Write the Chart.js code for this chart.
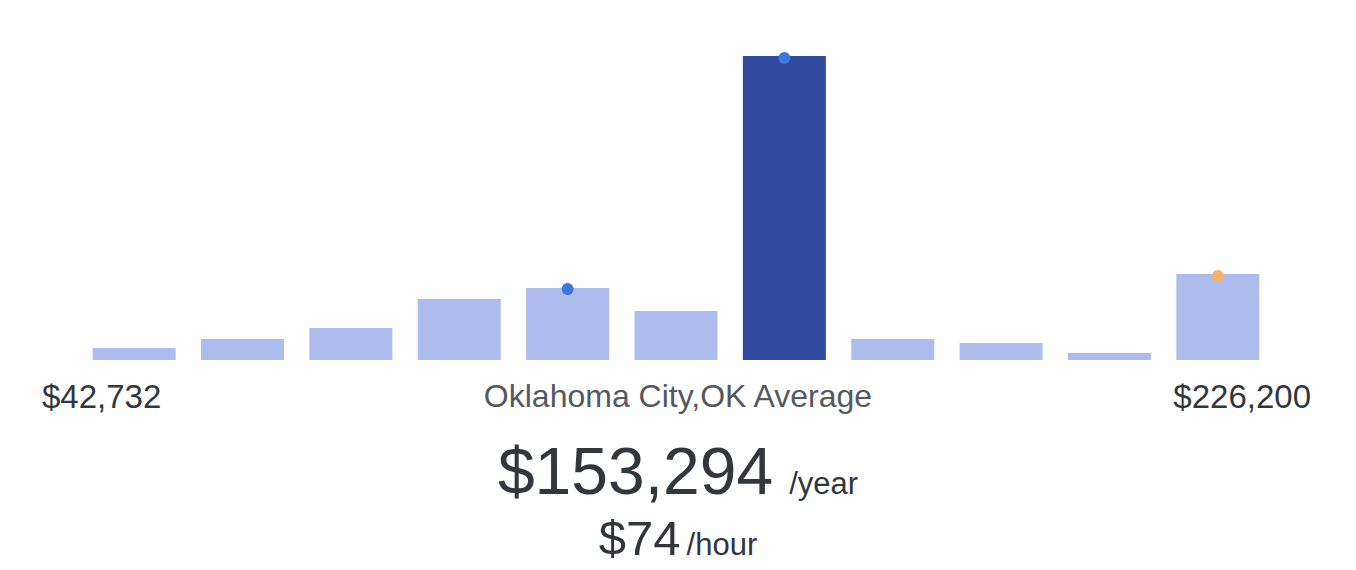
<!DOCTYPE html>
<html>
<head>
<meta charset="utf-8">
<script src="https://cdn.jsdelivr.net/npm/chart.js@4/dist/chart.umd.min.js"></script>
<style>
	html, body { margin: 0; padding: 0; background: #fff; }
	body { width: 1356px; height: 570px; position: relative; overflow: hidden;
		font-family: "Liberation Sans", Arial, Helvetica, sans-serif; color: #31373d; }
	#wrap { position: absolute; left: 0; top: 0; width: 1356px; height: 360px; }
	.lbl { position: absolute; font-size: 33px; line-height: 1; white-space: nowrap; }
	#minLbl { left: 42px; top: 380px; }
	#maxLbl { right: 45px; top: 380px; }
	#avgLbl { left: 0; width: 1356px; text-align: center; top: 380px; color: #55595e; font-size: 32px; }
	#yearLine { position: absolute; left: 0; width: 1356px; text-align: center; top: 438px; white-space: nowrap; line-height: 1; }
	#hourLine { position: absolute; left: 0; width: 1356px; text-align: center; top: 514px; white-space: nowrap; line-height: 1; }
	.big { font-size: 66px; }
	.mid { font-size: 49px; }
	.unit { font-size: 31px; }
	#yearLine .unit { margin-left: 16px; }
	#hourLine .unit { margin-left: 6px; }
</style>
</head>
<body>
<div id="wrap"><canvas id="salary-chart"></canvas></div>
<div class="lbl" id="minLbl"></div>
<div class="lbl" id="avgLbl"></div>
<div class="lbl" id="maxLbl"></div>
<div id="yearLine"></div>
<div id="hourLine"></div>
<script>
	// salary distribution buckets (relative share)
	var buckets = ["1", "2", "3", "4", "5", "6", "7", "8", "9", "10", "11"];
	var shares = [12, 21, 32, 61, 72, 49, 304, 21, 17, 7, 86];
	var highlightIndex = 6;
	var blueMarks = [null, null, null, null, 71, null, 302, null, null, null, null];
	var orangeMarks = [null, null, null, null, null, null, null, null, null, null, 84];

	var minSalary = "$42,732";
	var maxSalary = "$226,200";
	var avgTitle = "Oklahoma City,OK Average";
	var yearly = "$153,294";
	var hourly = "$74";

	var
		lightBlue = "#adbbed",
		darkBlue = "#2f4a9e",
		dotBlue = "#3a77de",
		dotOrange = "#f4b26a";

	document.getElementById("minLbl").textContent = minSalary;
	document.getElementById("maxLbl").textContent = maxSalary;
	document.getElementById("avgLbl").textContent = avgTitle;
	document.getElementById("yearLine").innerHTML = '<span class="big">' + yearly + '</span><span class="unit">/year</span>';
	document.getElementById("hourLine").innerHTML = '<span class="mid">' + hourly + '</span><span class="unit">/hour</span>';

	var barColors = shares.map(function (v, i) {
		return i === highlightIndex ? darkBlue : lightBlue;
	});

	var ctx = document.getElementById("salary-chart").getContext("2d");
	new Chart(ctx, {
		type: "bar",
		data: {
			labels: buckets,
			datasets: [{
				type: "line",
				data: blueMarks,
				showLine: false,
				pointRadius: 6,
				pointBackgroundColor: dotBlue,
				pointBorderWidth: 0,
				clip: false,
				order: 0
			}, {
				type: "line",
				data: orangeMarks,
				showLine: false,
				pointRadius: 6,
				pointBackgroundColor: dotOrange,
				pointBorderWidth: 0,
				clip: false,
				order: 0
			}, {
				data: shares,
				backgroundColor: barColors,
				borderWidth: 0,
				categoryPercentage: 1,
				barPercentage: 0.766,
				order: 1
			}]
		},
		options: {
			responsive: true,
			maintainAspectRatio: false,
			animation: false,
			layout: { autoPadding: false, padding: { left: 80, right: 84, top: 0, bottom: 0 } },
			plugins: { legend: { display: false }, tooltip: { enabled: false } },
			scales: {
				x: { display: false },
				y: { display: false, min: 0, max: 360 }
			}
		}
	});
</script>
</body>
</html>
